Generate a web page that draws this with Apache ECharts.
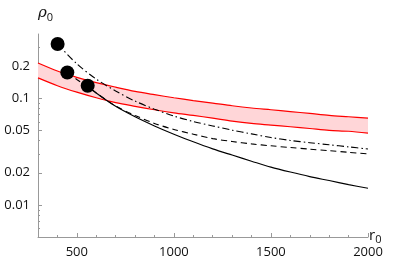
<!DOCTYPE html>
<html>
<head>
<meta charset="utf-8">
<script src="https://cdn.jsdelivr.net/npm/echarts@6/dist/echarts.min.js"></script>
<style>html,body{margin:0;padding:0;background:#fff;}#c{width:399px;height:265px;}</style>
</head>
<body>
<div id="c"></div>
<script>
var bandX = [300,400,500,600,700,800,900,1000,1100,1200,1300,1400,1500,1600,1700,1800,1900,2000];
var bandUpper = [0.214,0.180,0.157,0.140,0.127,0.116,0.108,0.101,0.095,0.090,0.085,0.081,0.078,0.075,0.072,0.069,0.067,0.065];
var bandLower = [0.155,0.131,0.114,0.101,0.091,0.084,0.078,0.073,0.069,0.065,0.061,0.058,0.056,0.054,0.052,0.050,0.049,0.047];

var solidX = [556,600,700,800,900,1000,1100,1200,1300,1400,1500,1600,1700,1800,1900,2000];
var solidY = [0.131,0.112,0.084,0.067,0.055,0.046,0.039,0.0335,0.0293,0.0257,0.0226,0.0203,0.0184,0.0169,0.0155,0.0143];

var dashedX = [451,500,600,700,800,900,1000,1100,1200,1300,1400,1500,1600,1700,1800,1900,2000];
var dashedY = [0.174,0.150,0.112,0.0845,0.069,0.058,0.051,0.046,0.0418,0.0393,0.0373,0.0358,0.0345,0.0333,0.0322,0.0311,0.0301];

var dashDotX = [401,500,600,700,800,900,1000,1100,1200,1300,1400,1500,1600,1700,1800,1900,2000];
var dashDotY = [0.322,0.210,0.151,0.117,0.094,0.079,0.068,0.0605,0.055,0.0502,0.0463,0.0428,0.0402,0.0383,0.0366,0.035,0.0334];

var dotsX = [401,451,556];
var dotsY = [0.322,0.174,0.131];

var xMajor = [500,1000,1500,2000];
var xMinor = [400,600,700,800,900,1100,1200,1300,1400,1600,1700,1800,1900];
var yMajor = [0.01,0.02,0.05,0.1,0.2];
var yMinor = [0.006,0.007,0.008,0.009,0.03,0.04,0.06,0.07,0.08,0.09,0.3];

function zip(a,b){return a.map(function(v,i){return [v,b[i]];});}

var chart = echarts.init(document.getElementById('c'), null, {renderer:'canvas'});
var axisCol = '#999';
var lbl = {color:'#111', fontFamily:'Open Sans, sans-serif', fontSize:13};
chart.setOption({
  animation:false,
  grid:{left:38,right:31,top:34,bottom:28},
  xAxis:[
    {type:'value',min:300,max:2000,
     axisLine:{show:true,lineStyle:{color:axisCol,width:1}},
     axisTick:{show:true,inside:true,length:4,customValues:xMajor,lineStyle:{color:axisCol}},
     axisLabel:Object.assign({customValues:xMajor,margin:9,formatter:function(v){return String(v);}},lbl),
     splitLine:{show:false}},
    {type:'value',min:300,max:2000,position:'bottom',
     axisLine:{show:false},
     axisTick:{show:true,inside:true,length:2,customValues:xMinor,lineStyle:{color:axisCol}},
     axisLabel:{show:false},splitLine:{show:false}}
  ],
  yAxis:[
    {type:'log',min:0.005,max:0.4,logBase:10,
     axisLine:{show:true,lineStyle:{color:axisCol,width:1}},
     axisTick:{show:true,inside:true,length:4,customValues:yMajor,lineStyle:{color:axisCol}},
     axisLabel:Object.assign({customValues:yMajor,margin:8,formatter:function(v){return String(+v.toPrecision(3));}},lbl),
     splitLine:{show:false}},
    {type:'log',min:0.005,max:0.4,logBase:10,position:'left',
     axisLine:{show:false},
     axisTick:{show:true,inside:true,length:2,customValues:yMinor,lineStyle:{color:axisCol}},
     axisLabel:{show:false},splitLine:{show:false}}
  ],
  graphic:[
    {type:'text',left:38,top:6,style:{rich:{a:{fontFamily:'DejaVu Serif',fontStyle:'italic',fontSize:15,fill:'#111'},b:{fontFamily:'Open Sans',fontSize:11,fill:'#111',padding:[8,0,0,0]}},text:'{a|ρ}{b|0}'}},
    {type:'text',left:369,top:228,style:{rich:{a:{fontFamily:'Open Sans',fontSize:15,fill:'#111'},b:{fontFamily:'Open Sans',fontSize:11,fill:'#111',padding:[8,0,0,0]}},text:'{a|r}{b|0}'}}
  ],
  series:[
    {type:'custom',xAxisIndex:0,yAxisIndex:0,z:1,data:[0],silent:true,
     renderItem:function(params,api){
       var pts=[];
       for(var i=0;i<bandX.length;i++){pts.push(api.coord([bandX[i],bandUpper[i]]));}
       for(var j=bandX.length-1;j>=0;j--){pts.push(api.coord([bandX[j],bandLower[j]]));}
       return {type:'polygon',shape:{points:pts,smooth:0},style:{fill:'#ffd6d8',stroke:null}};
     }},
    {type:'line',data:zip(bandX,bandUpper),smooth:0.3,showSymbol:false,z:3,lineStyle:{color:'#ff0000',width:1.2}},
    {type:'line',data:zip(bandX,bandLower),smooth:0.3,showSymbol:false,z:3,lineStyle:{color:'#ff0000',width:1.2}},
    {type:'line',data:zip(solidX,solidY),smooth:0.3,showSymbol:false,z:4,lineStyle:{color:'#000',width:1.1}},
    {type:'line',data:zip(dashedX,dashedY),smooth:0.3,showSymbol:false,z:4,lineStyle:{color:'#000',width:1.1,type:[6,4]}},
    {type:'line',data:zip(dashDotX,dashDotY),smooth:0.3,showSymbol:false,z:4,lineStyle:{color:'#000',width:1.1,type:[7,3,1.5,3]}},
    {type:'scatter',data:zip(dotsX,dotsY),symbolSize:14,z:6,itemStyle:{color:'#000',opacity:1}}
  ]
});
</script>
</body>
</html>
